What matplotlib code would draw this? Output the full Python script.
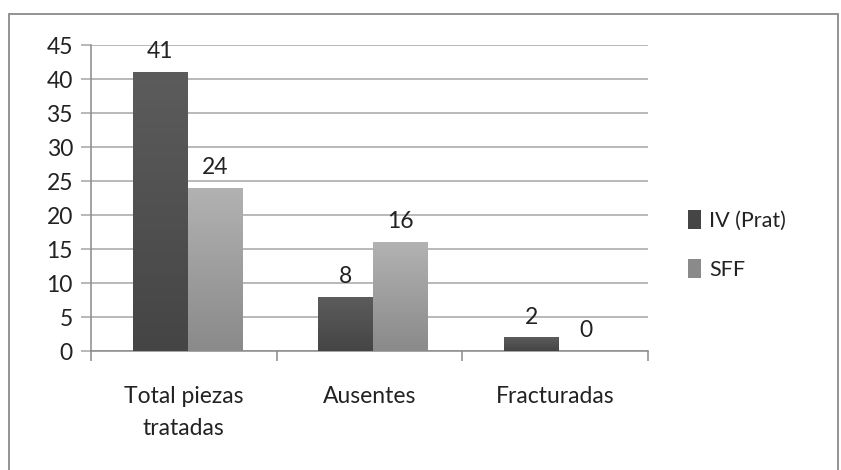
import numpy as np
import matplotlib
matplotlib.use('Agg')
import matplotlib.pyplot as plt
from matplotlib.patches import Rectangle

categories = ['Total piezas\ntratadas', 'Ausentes', 'Fracturadas']
series_names = ['IV (Prat)', 'SFF']
iv_prat = [41, 8, 2]
sff = [24, 16, 0]
y_ticks = [0, 5, 10, 15, 20, 25, 30, 35, 40, 45]

plt.rcParams['font.family'] = ['Lato', 'DejaVu Sans']
fs = 16.5

fig = plt.figure(figsize=(8.41, 4.70), dpi=100)
fig.patches.append(Rectangle((9 / 841, -0.05), (838 - 9) / 841, 1 - 14 / 470 + 0.05,
                             transform=fig.transFigure, fill=False,
                             edgecolor='#8a8a8a', linewidth=1.3))
ax = fig.add_axes([91 / 841, 1 - 351 / 470, (648 - 91) / 841, (351 - 45) / 470])

x = np.arange(len(categories))
w = 0.296
grads = [('#5c5c5c', '#454545'), ('#b2b2b2', '#8a8a8a')]
vals = [iv_prat, sff]
handles = []
for i, (name, v) in enumerate(zip(series_names, vals)):
    pos = x + 0.02 + (i - 0.5) * w
    bars = ax.bar(pos, v, w, color=grads[i][1], label=name, zorder=3)
    handles.append(bars)
    top, bot = grads[i]
    cmap = matplotlib.colors.LinearSegmentedColormap.from_list('g%d' % i, [bot, top])
    for b, val in zip(bars, v):
        if val > 0:
            im = ax.imshow(np.linspace(0, 1, 100).reshape(-1, 1), cmap=cmap,
                           extent=[b.get_x(), b.get_x() + w, 0, val],
                           origin='lower', aspect='auto', zorder=3.5)
            im.set_clip_path(b)
        ax.annotate(str(val), (b.get_x() + w / 2, val), xytext=(0, 7),
                    textcoords='offset points', ha='center', va='bottom',
                    fontsize=fs, color='#222222', zorder=5)

ax.set_xlim(-0.5, len(categories) - 0.5)
ax.set_ylim(0, 45)
ax.set_yticks(y_ticks)
ax.grid(axis='y', color='#a6a6a6', linewidth=1.1, zorder=0)
ax.set_xticks(x)
ax.set_xticklabels(categories, fontsize=fs, color='#222222', linespacing=1.6)
ax.set_xticks(np.arange(len(categories) + 1) - 0.5, minor=True)
ax.tick_params(axis='x', which='major', length=0, pad=25.5)
ax.tick_params(axis='x', which='minor', length=7, color='#8a8a8a', width=1.1)
ax.tick_params(axis='y', length=7, color='#a6a6a6', width=1.1, labelsize=fs,
               labelcolor='#222222', pad=6)
for s in ['top', 'right']:
    ax.spines[s].set_visible(False)
ax.spines['left'].set_color('#8a8a8a')
ax.spines['bottom'].set_color('#8a8a8a')
ax.spines['left'].set_linewidth(1.1)
ax.spines['bottom'].set_linewidth(1.1)
ax.set_axisbelow(True)

fig.legend(handles=handles, loc='center left', bbox_to_anchor=(677 / 841, 1 - 245 / 470),
           frameon=False, fontsize=15.5, handlelength=0.6, handleheight=1.0,
           handletextpad=0.4, labelspacing=1.3, borderpad=0, labelcolor='#222222')

fig.savefig('out.png', dpi=100)
